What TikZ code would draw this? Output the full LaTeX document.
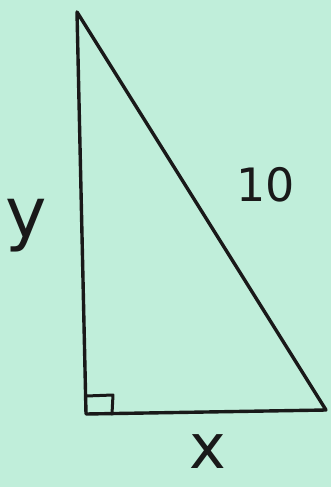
\documentclass[tikz,border=0pt]{standalone}
\usepackage{fontspec}
\setmainfont{DejaVu Sans}
\definecolor{mint}{RGB}{192,238,218}
\definecolor{ink}{RGB}{25,25,25}
\begin{document}
\begin{tikzpicture}[x=1pt,y=-1pt,
  edge/.style={draw=ink,line width=3.4pt,line join=round,line cap=round},
  lbl/.style={text=ink,inner sep=0pt}]
\fill[mint] (0,0) rectangle (331,487);
\useasboundingbox (0,0) rectangle (331,487);
\coordinate (T) at (77,12);
\coordinate (A) at (86,414);
\coordinate (B) at (326,410);
\draw[edge] (T) -- (A) -- (B) -- cycle;
\coordinate (s1) at (86,396);
\coordinate (s2) at (113,395);
\coordinate (s3) at (112,414);
\draw[edge,line width=3pt] (s1) -- (s2) -- (s3);
\node[lbl,font=\fontsize{70}{70}\selectfont] (ly) at (26,226) {y};
\node[lbl,font=\fontsize{46}{46}\selectfont] (l10) at (266,185) {10};
\node[lbl,font=\fontsize{62}{62}\selectfont] (lx) at (208,452) {x};
\end{tikzpicture}
\end{document}
